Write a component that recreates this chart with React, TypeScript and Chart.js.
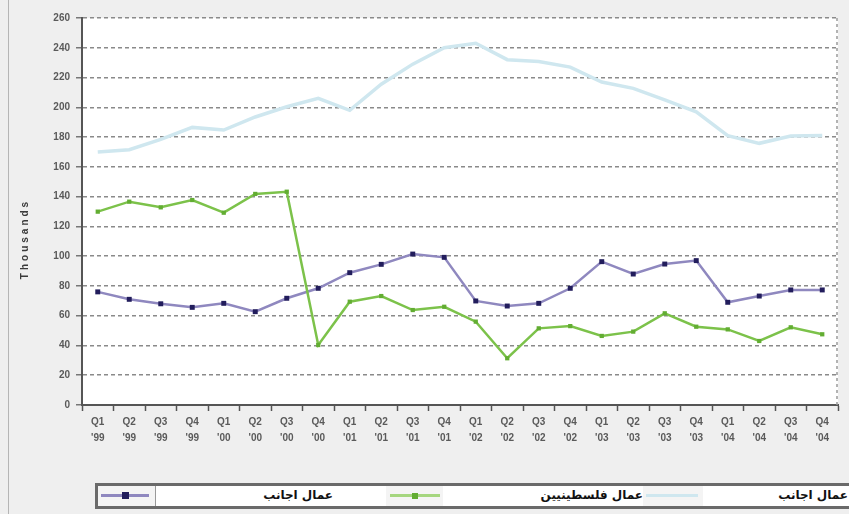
import React, { useEffect, useRef } from "react";
import { Chart, registerables } from "chart.js";

Chart.register(...registerables);

const xLabels: string[][] = [
  ["Q1", "'99"], ["Q2", "'99"], ["Q3", "'99"], ["Q4", "'99"],
  ["Q1", "'00"], ["Q2", "'00"], ["Q3", "'00"], ["Q4", "'00"],
  ["Q1", "'01"], ["Q2", "'01"], ["Q3", "'01"], ["Q4", "'01"],
  ["Q1", "'02"], ["Q2", "'02"], ["Q3", "'02"], ["Q4", "'02"],
  ["Q1", "'03"], ["Q2", "'03"], ["Q3", "'03"], ["Q4", "'03"],
  ["Q1", "'04"], ["Q2", "'04"], ["Q3", "'04"], ["Q4", "'04"],
];

const seriesNames = ["عمال اجانب", "عمال فلسطينيين", "عمال اجانب"];
const yTitle = "Thousands";

const foreignA = [76, 71, 68, 65.6, 68.3, 62.7, 71.7, 78.4, 88.9, 94.5, 101.4, 99.2, 69.9, 66.5, 68.3, 78.4, 96.3, 88, 94.7, 97, 69, 73.2, 77.3, 77.3];
const palestinian = [129.9, 136.6, 132.8, 137.7, 129.2, 141.8, 143.3, 40.3, 69.4, 73.2, 63.8, 66, 56, 31.4, 51.5, 53, 46.4, 49.3, 61.6, 52.6, 50.8, 43, 52.2, 47.5];
const foreignB = [170, 171.5, 178.5, 186.5, 184.7, 193.5, 200.4, 206, 198, 215.5, 229, 240, 243, 232, 230.7, 227, 217, 212.7, 205, 197, 181, 175.8, 180.7, 181];

const yMin = 0;
const yMax = 260;
const yStep = 20;

const FONT = "'Liberation Sans', Arial, sans-serif";
const AR_FONT = "'DejaVu Sans', sans-serif";

const chartDeco = {
  id: "chartDeco",
  beforeDraw(chart: any) {
    const { ctx, chartArea } = chart;
    ctx.save();
    ctx.fillStyle = "#ffffff";
    ctx.fillRect(chartArea.left, chartArea.top, chartArea.right - chartArea.left, chartArea.bottom - chartArea.top);
    ctx.restore();
  },
  afterDraw(chart: any) {
    const { ctx, chartArea } = chart;
    ctx.save();
    ctx.strokeStyle = "#9a9a9a";
    ctx.lineWidth = 1.5;
    ctx.setLineDash([3, 3]);
    ctx.beginPath();
    ctx.moveTo(chartArea.right - 1, chartArea.top);
    ctx.lineTo(chartArea.right - 1, chartArea.bottom);
    ctx.stroke();
    ctx.restore();
    // rotated y-axis title
    ctx.save();
    ctx.translate(25, 239);
    ctx.rotate(-Math.PI / 2);
    ctx.fillStyle = "#3a3a3a";
    ctx.font = `bold 10px ${FONT}`;
    try {
      (ctx as any).letterSpacing = "3px";
    } catch (e) {}
    ctx.textAlign = "center";
    ctx.textBaseline = "middle";
    ctx.fillText(yTitle, 0, 0);
    ctx.restore();
  },
};

function Swatch({ line, marker, markerSize, width }: { line: string; marker: string; markerSize: number; width: number }) {
  return (
    <div style={{ position: "relative", width, height: 10 }}>
      <div style={{ position: "absolute", left: 0, right: 0, top: 4, height: 3, background: line }} />
      {markerSize > 0 && (
        <div
          style={{
            position: "absolute",
            left: width / 2 - markerSize / 2,
            top: 5.5 - markerSize / 2,
            width: markerSize,
            height: markerSize,
            background: marker,
          }}
        />
      )}
    </div>
  );
}

export default function App() {
  const canvasRef = useRef<HTMLCanvasElement | null>(null);

  useEffect(() => {
    const prevMargin = document.body.style.margin;
    document.body.style.margin = "0";
    const canvas = canvasRef.current;
    if (!canvas) return;
    const chart = new Chart(canvas, {
      type: "line",
      data: {
        labels: xLabels,
        datasets: [
          {
            label: seriesNames[2],
            data: foreignB,
            borderColor: "#cfe7ef",
            backgroundColor: "#cfe7ef",
            borderWidth: 3.5,
            pointRadius: 0,
            tension: 0,
          },
          {
            label: seriesNames[1],
            data: palestinian,
            borderColor: "#7cc24a",
            backgroundColor: "#62ad32",
            borderWidth: 2.5,
            pointStyle: "rect",
            pointRadius: 3,
            pointBorderWidth: 0,
            tension: 0,
          },
          {
            label: seriesNames[0],
            data: foreignA,
            borderColor: "#8f88bf",
            backgroundColor: "#221d5c",
            borderWidth: 2.5,
            pointStyle: "rect",
            pointRadius: 3.5,
            pointBorderWidth: 0,
            tension: 0,
          },
        ],
      },
      options: {
        animation: false,
        responsive: false,
        maintainAspectRatio: false,
        layout: { padding: { left: 0, right: 11, top: 18, bottom: 64 } },
        plugins: {
          legend: { display: false },
          tooltip: { enabled: false },
        },
        scales: {
          x: {
            type: "category",
            offset: true,
            grid: {
              display: true,
              drawOnChartArea: false,
              offset: true,
              tickLength: 6,
              tickColor: "#555",
              tickWidth: 1.5,
            },
            border: { display: true, color: "#555", width: 2 },
            ticks: {
              autoSkip: false,
              maxRotation: 0,
              minRotation: 0,
              color: "#5a5a5a",
              padding: 3,
              font: { family: FONT, size: 10, weight: "bold", lineHeight: 1.6 },
            },
            afterFit(scale: any) {
              scale.height = 45;
            },
          },
          y: {
            min: yMin,
            max: yMax,
            ticks: {
              stepSize: yStep,
              color: "#5a5a5a",
              padding: 6,
              font: { family: FONT, size: 10, weight: "bold" },
            },
            grid: {
              color: "#8a8a8a",
              lineWidth: 1.5,
              tickLength: 6,
              tickColor: "#777",
              tickWidth: 1.5,
            },
            border: { display: true, color: "#555", width: 2, dash: [4, 3] },
            afterFit(scale: any) {
              scale.width = 82;
            },
          },
        },
      },
      plugins: [chartDeco],
    });
    return () => {
      chart.destroy();
      document.body.style.margin = prevMargin;
    };
  }, []);

  const legendText: React.CSSProperties = {
    position: "absolute",
    top: 2,
    fontFamily: AR_FONT,
    fontWeight: "bold",
    fontSize: 12,
    color: "#111",
    direction: "rtl",
    whiteSpace: "nowrap",
  };

  return (
    <div
      style={{
        position: "fixed",
        left: 0,
        top: 0,
        width: 849,
        height: 514,
        background: "#efefef",
        overflow: "hidden",
      }}
    >
      <div style={{ position: "absolute", left: 8, top: 0, bottom: 0, width: 1, background: "#b5b5b5" }} />
      <canvas ref={canvasRef} width={849} height={514} style={{ position: "absolute", left: 0, top: 0, width: 849, height: 514 }} />
      <div
        style={{
          position: "absolute",
          left: 95,
          top: 483,
          width: 760,
          height: 20,
          border: "3px solid #6a6a6a",
          background: "#f4f4f4",
        }}
      >
        <div style={{ position: "absolute", left: 57, top: 0, width: 230, height: 20, background: "#ffffff", borderLeft: "1px solid #999" }} />
        <div style={{ position: "absolute", left: 345, top: 0, width: 200, height: 20, background: "#ffffff" }} />
        <div style={{ position: "absolute", left: 605, top: 0, width: 155, height: 20, background: "#ffffff" }} />
        <div style={{ position: "absolute", left: 3, top: 4 }}>
          <Swatch line="#8f88bf" marker="#221d5c" markerSize={7} width={48} />
        </div>
        <div style={{ ...legendText, right: 760 - 235 }}>{seriesNames[0]}</div>
        <div style={{ position: "absolute", left: 292, top: 4 }}>
          <Swatch line="#a5d67f" marker="#62ad32" markerSize={6} width={50} />
        </div>
        <div style={{ ...legendText, right: 760 - 545 }}>{seriesNames[1]}</div>
        <div style={{ position: "absolute", left: 548, top: 4 }}>
          <Swatch line="#cfe7ef" marker="#cfe7ef" markerSize={0} width={52} />
        </div>
        <div style={{ ...legendText, right: 760 - 750 }}>{seriesNames[2]}</div>
      </div>
    </div>
  );
}
